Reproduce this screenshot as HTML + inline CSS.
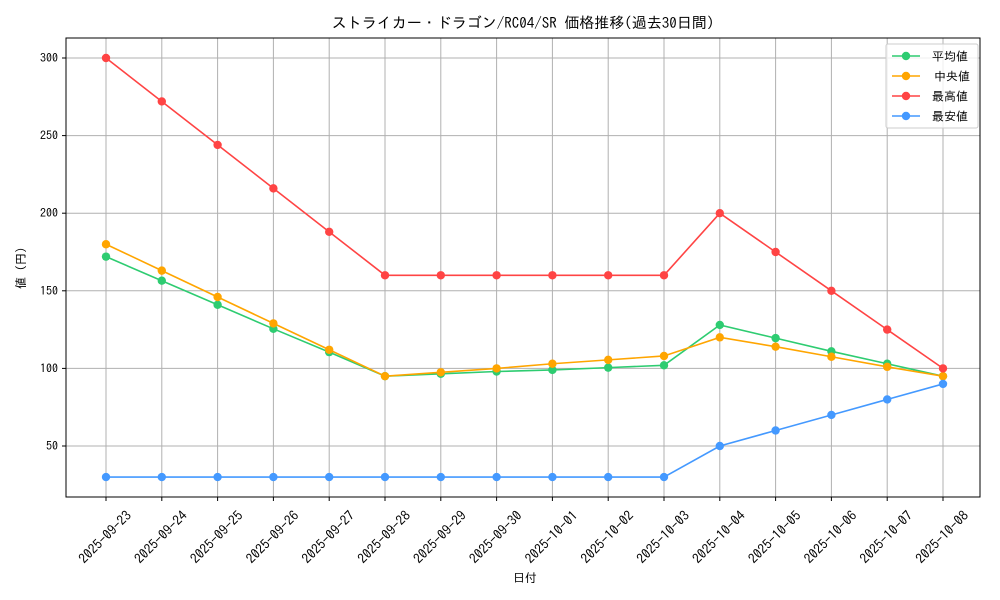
<!DOCTYPE html>
<html><head><meta charset="utf-8"><style>
html,body{margin:0;padding:0;background:#fff;}
svg{display:block;font-family:"IPAGothic","Noto Sans CJK JP",sans-serif;}
</style></head><body>
<svg id="c" width="1000" height="600" xmlns="http://www.w3.org/2000/svg">
<rect width="1000" height="600" fill="#fff"/>
<g id="grid"></g>
<rect x="66" y="38" width="914" height="459" fill="none" stroke="#000" stroke-width="1"/>
<text x="523" y="28" font-size="15" text-anchor="middle">ストライカー・ドラゴン/RC04/SR 価格推移(過去30日間)</text>
<text x="525" y="582" font-size="12" text-anchor="middle">日付</text>
<text x="0" y="0" font-size="12" text-anchor="middle" transform="translate(25,268) rotate(-90)">値 (円)</text>
<g id="series"></g>
<g id="legend"></g>
</svg>
<script>
const X=i=>106+i*55.8, Y=v=>58+(300-v)*1.552;
const dates=["2025-09-23","2025-09-24","2025-09-25","2025-09-26","2025-09-27","2025-09-28","2025-09-29","2025-09-30","2025-10-01","2025-10-02","2025-10-03","2025-10-04","2025-10-05","2025-10-06","2025-10-07","2025-10-08"];
let g='';
dates.forEach((d,i)=>{const x=X(i);g+=`<line x1="${x}" y1="38" x2="${x}" y2="497" stroke="#b0b0b0" stroke-width="1"/><line x1="${x}" y1="497" x2="${x}" y2="501" stroke="#000"/><text font-size="13.5" text-anchor="middle" transform="translate(${x-1},537) rotate(-45)" dy="0.35em">${d}</text>`;});
[50,100,150,200,250,300].forEach(v=>{const y=Y(v);g+=`<line x1="66" y1="${y}" x2="980" y2="${y}" stroke="#b0b0b0" stroke-width="1"/><line x1="62" y1="${y}" x2="66" y2="${y}" stroke="#000"/><text x="58" y="${y+4}" font-size="12" text-anchor="end">${v}</text>`;});
document.getElementById('grid').innerHTML=g;
const S=[
["平均値","#2ecc71",[172,156.5,141,125.5,110.5,95,96.5,98,99,100.5,102,128,119.5,111,103,95]],
["中央値","#ffa500",[180,163,146,129,112,95,97.5,100,103,105.5,108,120,114,107.5,101,95]],
["最高値","#ff4444",[300,272,244,216,188,160,160,160,160,160,160,200,175,150,125,100]],
["最安値","#4499ff",[30,30,30,30,30,30,30,30,30,30,30,50,60,70,80,90]]];
let s='';
S.forEach(([n,c,d])=>{s+=`<polyline fill="none" stroke="${c}" stroke-width="1.6" points="${d.map((v,i)=>X(i)+','+Y(v)).join(' ')}"/>`;d.forEach((v,i)=>s+=`<circle cx="${X(i)}" cy="${Y(v)}" r="4.2" fill="${c}"/>`);});
document.getElementById('series').innerHTML=s;
let l='<rect x="886" y="44" width="92" height="84" rx="2" fill="#fff" fill-opacity="0.8" stroke="#ccc"/>';
S.forEach(([n,c],i)=>{const y=56+i*20;l+=`<line x1="892" y1="${y}" x2="920" y2="${y}" stroke="${c}" stroke-width="1.6"/><circle cx="906" cy="${y}" r="4.2" fill="${c}"/><text x="${i==1?934:932}" y="${y+4.5}" font-size="12">${n}</text>`;});
document.getElementById('legend').innerHTML=l;
</script>
</body></html>
